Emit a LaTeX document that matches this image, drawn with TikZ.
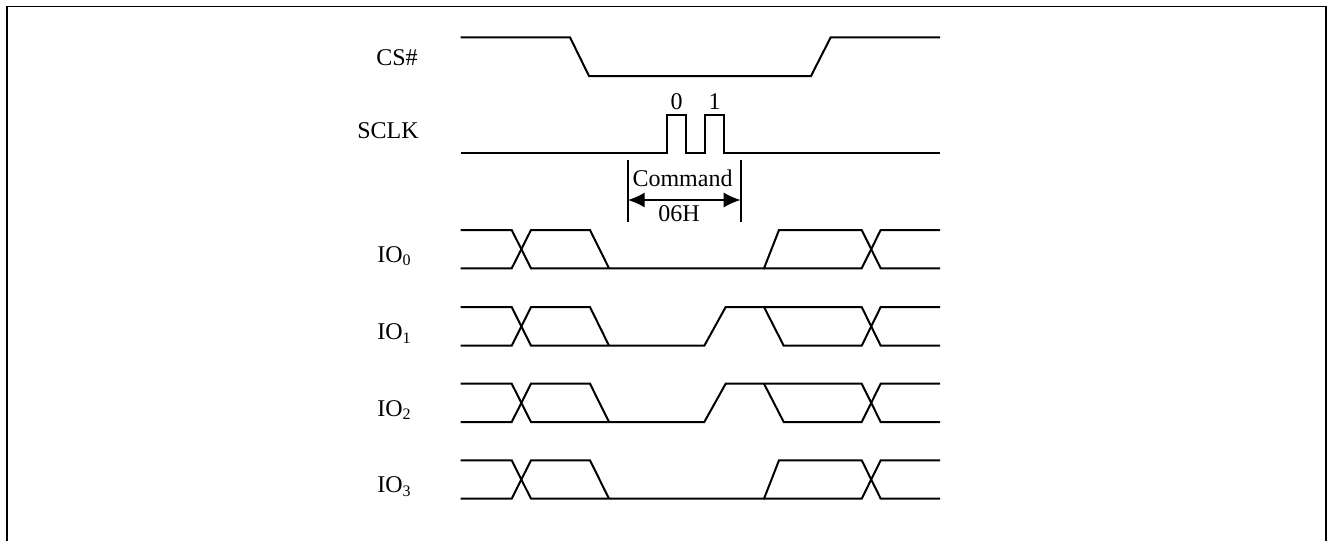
\documentclass[tikz,border=0pt]{standalone}
\usepackage{fontspec}
\setmainfont{Liberation Serif}
\usetikzlibrary{arrows.meta}
\begin{document}
\begin{tikzpicture}[x=0.5pt,y=-0.5pt,
  wave/.style={line width=1pt,line join=miter},
  frame/.style={line width=0.7pt},
  lbl/.style={inner sep=0pt,font=\fontsize{12}{14}\selectfont},
  marker/.style={line width=0.8pt},
  dimarrow/.style={line width=0.8pt,{Latex[length=8.5pt,width=7.5pt]}-{Latex[length=8.5pt,width=7.5pt]}}]
\useasboundingbox (0,0) rectangle (1327,541);
% frame
\draw[frame] (1326,541) -- (1326,6.5) -- (6.5,6.5);
\draw[line width=1pt] (6.5,541) -- (6.5,6.2);
% labels
\node[lbl,anchor=base east] (lcs) at (418,65.7) {CS\#};
\node[lbl,anchor=base east] (lsclk) at (419,138.3) {SCLK};
\node[lbl,anchor=base east] (lio0) at (412,262.3) {IO\textsubscript{0}};
\node[lbl,anchor=base east] (lio1) at (412,339.7) {IO\textsubscript{1}};
\node[lbl,anchor=base east] (lio2) at (412,416) {IO\textsubscript{2}};
\node[lbl,anchor=base east] (lio3) at (412,492.7) {IO\textsubscript{3}};
% CS#
\draw[wave] (460.7,37.3) -- (570,37.3) -- (589,76) -- (811,76) -- (830.7,37.3) -- (940,37.3);
% SCLK
\draw[wave] (460.7,153.3) -- (667.3,153.3) -- (667.3,115.3) -- (686,115.3) -- (686,153.3)
  -- (705,153.3) -- (705,115.3) -- (723.7,115.3) -- (723.7,153.3) -- (940,153.3);
\node[lbl,anchor=base] (b0) at (676.5,109.3) {0};
\node[lbl,anchor=base] (b1) at (714.5,109.3) {1};
% command marker
\coordinate (ml) at (627.7,200);
\coordinate (mr) at (740.7,200);
\draw[marker] (627.7,160) -- (627.7,222);
\draw[marker] (740.7,160) -- (740.7,222);
\draw[dimarrow] (ml) -- (mr);
\node[lbl,anchor=base] (cmd) at (682.5,186.5) {Command};
\node[lbl,anchor=base] (hex) at (679,221.5) {06H};
% IO0 and IO3 (type A)
\foreach \t/\b in {230/268.3, 460.3/498.7}{
  \draw[wave] (460.7,\t) -- (511.7,\t) -- (531,\b) -- (764,\b) -- (779,\t) -- (861.7,\t) -- (880.7,\b) -- (940,\b);
  \draw[wave] (460.7,\b) -- (511.7,\b) -- (531,\t) -- (590,\t) -- (609,\b);
  \draw[wave] (764,\b) -- (861.7,\b) -- (880.7,\t) -- (940,\t);
}
% IO1 and IO2 (type B)
\foreach \t/\b in {307/345.7, 383.7/422}{
  \draw[wave] (460.7,\t) -- (511.7,\t) -- (531,\b) -- (704.3,\b) -- (725.7,\t) -- (861.7,\t) -- (880.7,\b) -- (940,\b);
  \draw[wave] (460.7,\b) -- (511.7,\b) -- (531,\t) -- (590,\t) -- (609,\b);
  \draw[wave] (764,\t) -- (783.7,\b) -- (861.7,\b) -- (880.7,\t) -- (940,\t);
}
\end{tikzpicture}
\end{document}
